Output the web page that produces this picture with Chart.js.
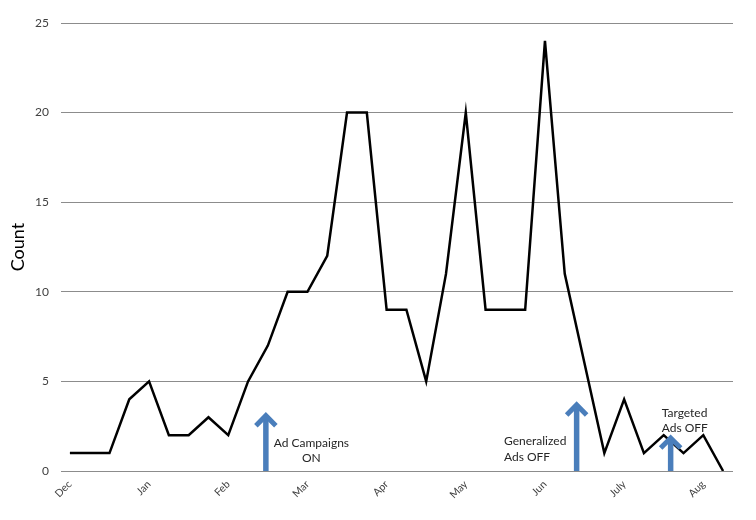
<!DOCTYPE html>
<html>
<head>
<meta charset="utf-8">
<script src="https://cdn.jsdelivr.net/npm/chart.js@4.4.1/dist/chart.umd.min.js"></script>
<style>
html,body{margin:0;padding:0;background:#fff;}
#wrap{width:756px;height:520px;}
</style>
</head>
<body>
<div id="wrap"><canvas id="c" width="756" height="520"></canvas></div>
<script>
// Weekly counts, Dec through Aug
const counts = [1,1,1,4,5,2,2,3,2,5,7,10,10,12,20,20,9,9,5,11,20,9,9,9,24,11,6,1,4,1,2,1,2,0];
const monthLabels = ['Dec','Jan','Feb','Mar','Apr','May','Jun','July','Aug'];
const monthTickIndex = [0,4,8,12,16,20,24,28,32];
const yTicks = [0,5,10,15,20,25];

// Annotations (in data coordinates: week index, count)
const arrowWeek = [9.9, 25.6, 30.35];
const arrowTop = [3.2, 3.8, 1.95];
const noteLines = [['Ad Campaigns','ON'],['Generalized','Ads OFF'],['Targeted','Ads OFF']];
const noteWeek = [12.2, 21.93, 29.9];
const noteAlign = ['center','left','left'];
const noteY1 = [1.56, 1.64, 3.22];
const noteY2 = [0.72, 0.80, 2.38];

const points = counts.map((v,i)=>({x:i,y:v}));
const FONT = 'Lato, "Open Sans", sans-serif';

const annot = {
  id:'annot',
  afterDatasetsDraw(chart){
    const ctx = chart.ctx, xs = chart.scales.x, ys = chart.scales.y;
    ctx.save();
    ctx.strokeStyle = '#4A7EBB';
    arrowWeek.forEach((w,i)=>{
      const x = xs.getPixelForValue(w);
      const y0 = ys.getPixelForValue(0);
      const y1 = ys.getPixelForValue(arrowTop[i]);
      ctx.lineWidth = 5.5;
      ctx.lineCap = 'butt';
      ctx.beginPath();
      ctx.moveTo(x, y0);
      ctx.lineTo(x, y1 + 4);
      ctx.stroke();
      ctx.lineWidth = 5;
      ctx.lineJoin = 'miter';
      ctx.beginPath();
      ctx.moveTo(x - 10, y1 + 12);
      ctx.lineTo(x, y1 + 2);
      ctx.lineTo(x + 10, y1 + 12);
      ctx.stroke();
    });
    ctx.fillStyle = '#262626';
    ctx.font = '12px ' + FONT;
    ctx.textBaseline = 'middle';
    noteLines.forEach((lines,i)=>{
      ctx.textAlign = noteAlign[i];
      const x = xs.getPixelForValue(noteWeek[i]);
      ctx.fillText(lines[0], x, ys.getPixelForValue(noteY1[i]));
      ctx.fillText(lines[1], x, ys.getPixelForValue(noteY2[i]));
    });
    ctx.restore();
  }
};

new Chart(document.getElementById('c'), {
  type:'line',
  data:{datasets:[{
    data: points,
    borderColor:'#000',
    borderWidth:2.5,
    pointRadius:0,
    tension:0,
    fill:false
  }]},
  options:{
    responsive:false,
    animation:false,
    layout:{padding:{top:23,right:23,left:0,bottom:0}},
    plugins:{legend:{display:false},tooltip:{enabled:false}},
    scales:{
      x:{
        type:'linear',
        min:-0.45, max:33.5,
        afterBuildTicks(s){ s.ticks = monthTickIndex.map(v=>({value:v})); },
        afterFit(s){ s.height = 49; },
        grid:{display:false, drawTicks:false},
        border:{display:false},
        ticks:{
          autoSkip:false, minRotation:45, maxRotation:45, padding:7,
          color:'#404040', font:{family:FONT,size:10.5},
          callback(v){ const k = monthTickIndex.indexOf(v); return k>=0 ? monthLabels[k] : ''; }
        }
      },
      y:{
        min:0, max:25,
        afterBuildTicks(s){ s.ticks = yTicks.map(v=>({value:v})); },
        afterFit(s){ s.width = 61; },
        grid:{color:'#8c8c8c', lineWidth:1, drawTicks:false},
        border:{display:false},
        ticks:{padding:12, color:'#404040', font:{family:FONT,size:12}},
        title:{display:true, text:'Count', color:'#000', font:{family:FONT,size:18}, padding:{top:7,bottom:0}}
      }
    }
  },
  plugins:[annot]
});
</script>
</body>
</html>
